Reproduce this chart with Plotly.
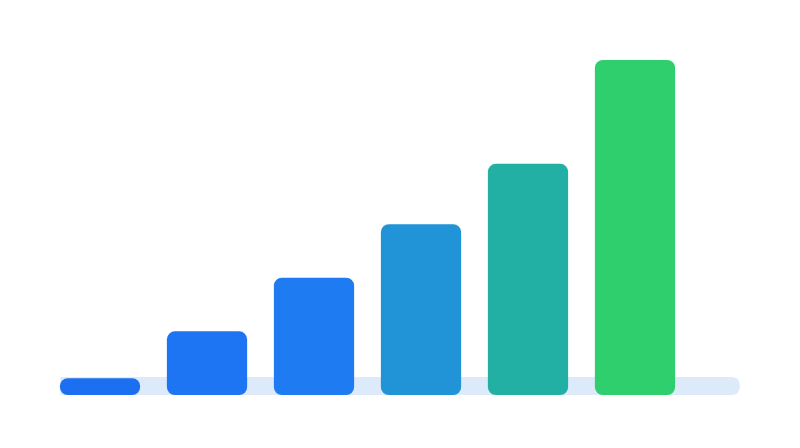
import plotly.graph_objects as go

# Bar values (relative, tallest = 100)
categories = ["A", "B", "C", "D", "E", "F"]
values = [5, 19, 35, 51, 69, 100]
colors = ["#1B6FF0", "#1E75F3", "#1F7BF1", "#2193D7", "#22B0A4", "#2ECF6C"]

# Light track behind the bars
track_start = -0.37
track_end = 5.98
track_height = 5.4

x = list(range(len(categories)))

fig = go.Figure()

# bars drawn downward from their top value to 0
fig.add_trace(
    go.Bar(
        x=x,
        y=[-v for v in values],
        base=values,
        marker=dict(color=colors, cornerradius=8, line=dict(width=0)),
        customdata=values,
        hovertemplate="%{customdata}<extra></extra>",
        showlegend=False,
    )
)

r_x = 0.08
r_y = track_height / 2
track_path = (
    f"M {track_start},0 L {track_end - r_x},0 "
    f"Q {track_end},0 {track_end},{r_y} "
    f"Q {track_end},{track_height} {track_end - r_x},{track_height} "
    f"L {track_start},{track_height} Z"
)

fig.update_layout(
    width=800,
    height=448,
    margin=dict(l=0, r=0, t=0, b=0),
    paper_bgcolor="white",
    plot_bgcolor="white",
    bargap=0.25,
    xaxis=dict(range=[-0.86, 6.617], visible=False, fixedrange=True),
    yaxis=dict(range=[-18.2, 115.5], visible=False, fixedrange=True),
    shapes=[
        dict(
            type="path",
            xref="x",
            yref="y",
            path=track_path,
            fillcolor="#DDEAF9",
            line=dict(width=0),
            layer="below",
        )
    ],
)

fig.write_html("out.html")
